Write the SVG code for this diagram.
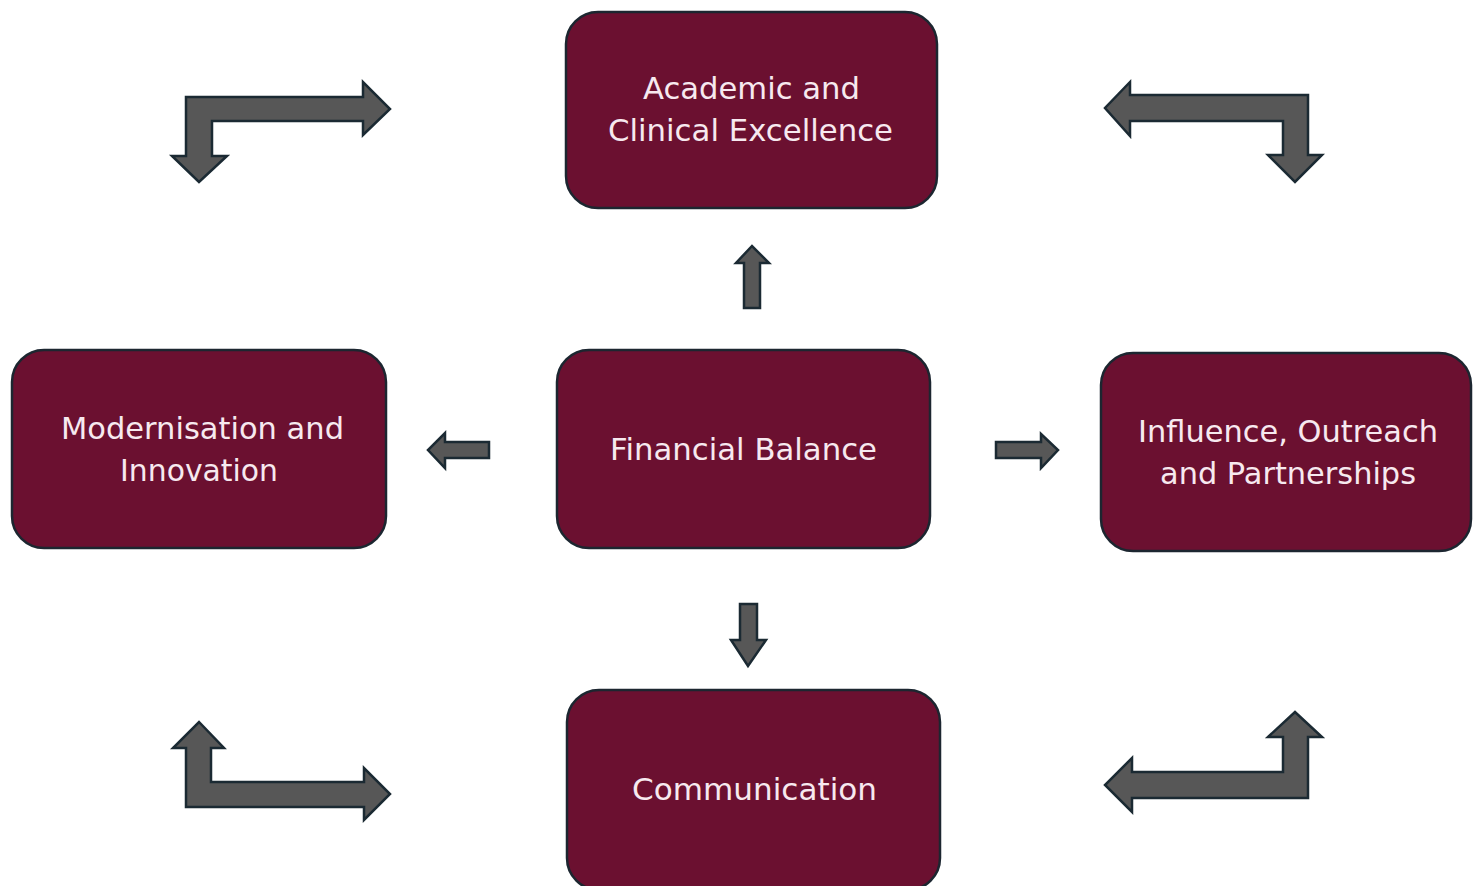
<svg xmlns="http://www.w3.org/2000/svg" width="1473" height="886" viewBox="0 0 1473 886">
  <style>
    .box { fill: #6b1030; stroke: #1c2630; stroke-width: 2.5; }
    .lbl { fill: #f7e9ef; font-family: "DejaVu Sans", "Open Sans", "Liberation Sans", sans-serif; font-size: 30px; text-anchor: middle; }
    .arr { fill: #575757; stroke: #1b2a33; stroke-width: 2.5; stroke-linejoin: miter; }
  </style>
  <rect width="1473" height="886" fill="#ffffff"/>

  <!-- strategy boxes -->
  <g id="node-academic">
    <rect class="box" x="566" y="12" width="371" height="196" rx="32"/>
    <text class="lbl" x="751.5" y="99" textLength="217" lengthAdjust="spacingAndGlyphs">Academic and</text>
    <text class="lbl" x="750.5" y="141" textLength="285" lengthAdjust="spacingAndGlyphs">Clinical Excellence</text>
  </g>
  <g id="node-modernisation">
    <rect class="box" x="12" y="350" width="374" height="198" rx="32"/>
    <text class="lbl" x="202.5" y="439" textLength="283" lengthAdjust="spacingAndGlyphs">Modernisation and</text>
    <text class="lbl" x="199" y="481" textLength="158" lengthAdjust="spacingAndGlyphs">Innovation</text>
  </g>
  <g id="node-financial">
    <rect class="box" x="557" y="350" width="373" height="198" rx="32"/>
    <text class="lbl" x="743.5" y="460" textLength="267" lengthAdjust="spacingAndGlyphs">Financial Balance</text>
  </g>
  <g id="node-influence">
    <rect class="box" x="1101" y="353" width="370" height="198" rx="32"/>
    <text class="lbl" x="1288" y="442" textLength="300" lengthAdjust="spacingAndGlyphs">Influence, Outreach</text>
    <text class="lbl" x="1288" y="484" textLength="256" lengthAdjust="spacingAndGlyphs">and Partnerships</text>
  </g>
  <g id="node-communication">
    <rect class="box" x="567" y="690" width="373" height="200" rx="32"/>
    <text class="lbl" x="754.5" y="800" textLength="245" lengthAdjust="spacingAndGlyphs">Communication</text>
  </g>

  <!-- block arrows -->
  <g id="connectors">
    <!-- centre: up, left, right, down -->
    <path class="arr" d="M744,308 L744,263 L736,263 L752,246 L769,263 L760,263 L760,308 Z"/>
    <path class="arr" d="M489,442 L445,442 L445,433 L428,450 L445,468 L445,458 L489,458 Z"/>
    <path class="arr" d="M996,442 L1041,442 L1041,434 L1058,450 L1041,468 L1041,458 L996,458 Z"/>
    <path class="arr" d="M740,604 L740,640 L731,640 L748,666 L766,640 L757,640 L757,604 Z"/>

    <!-- corner bent arrows -->
    <path class="arr" d="M186,97 L363,97 L363,82 L390,109 L363,135 L363,121 L212,121 L212,156 L227,156 L199,182 L172,156 L186,156 Z"/>
    <path class="arr" d="M1308,95 L1130,95 L1130,82 L1105,108 L1130,136 L1130,121 L1283,121 L1283,155 L1268,155 L1295,182 L1322,155 L1308,155 Z"/>
    <path class="arr" d="M186,807 L364,807 L364,820 L390,794 L364,768 L364,782 L211,782 L211,748 L224,748 L199,722 L173,748 L186,748 Z"/>
    <path class="arr" d="M1308,798 L1132,798 L1132,812 L1105,785 L1132,758 L1132,772 L1283,772 L1283,737 L1268,737 L1295,712 L1322,737 L1308,737 Z"/>
  </g>
</svg>
